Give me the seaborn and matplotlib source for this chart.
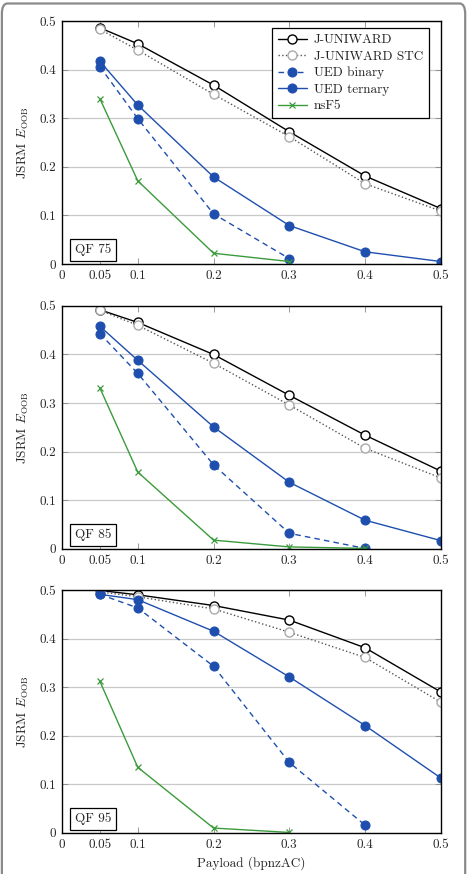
import numpy as np
import pandas as pd
import seaborn as sns
import matplotlib
matplotlib.use("Agg")
from matplotlib import pyplot as plt
from matplotlib.patches import FancyBboxPatch

# payload values (bpnzAC)
payload = [0.05, 0.1, 0.2, 0.3, 0.4, 0.5]

# QF 75
qf75_juniward = [0.486, 0.453, 0.368, 0.272, 0.181, 0.114]
qf75_stc = [0.483, 0.440, 0.349, 0.262, 0.165, 0.109]
qf75_ued_bin = [0.406, 0.299, 0.103, 0.011]
qf75_ued_ter = [0.417, 0.327, 0.179, 0.079, 0.025, 0.005]
qf75_nsf5 = [0.340, 0.171, 0.022, 0.005]

# QF 85
qf85_juniward = [0.492, 0.466, 0.400, 0.316, 0.234, 0.160]
qf85_stc = [0.491, 0.460, 0.382, 0.296, 0.207, 0.146]
qf85_ued_bin = [0.443, 0.361, 0.173, 0.032, 0.001]
qf85_ued_ter = [0.458, 0.388, 0.251, 0.137, 0.059, 0.017]
qf85_nsf5 = [0.331, 0.158, 0.018, 0.004, 0.001]

# QF 95
qf95_juniward = [0.499, 0.490, 0.468, 0.438, 0.381, 0.290]
qf95_stc = [0.496, 0.486, 0.461, 0.413, 0.361, 0.269]
qf95_ued_bin = [0.491, 0.463, 0.343, 0.145, 0.016]
qf95_ued_ter = [0.491, 0.480, 0.415, 0.321, 0.221, 0.113]
qf95_nsf5 = [0.312, 0.135, 0.010, 0.001]

qf_labels = ["QF 75", "QF 85", "QF 95"]
series_names = ["J-UNIWARD", "J-UNIWARD STC", "UED binary", "UED ternary", "nsF5"]
xticks = [0, 0.05, 0.1, 0.2, 0.3, 0.4, 0.5]
xtick_labels = ["0", "0.05", "0.1", "0.2", "0.3", "0.4", "0.5"]
yticks = [0, 0.1, 0.2, 0.3, 0.4, 0.5]
ytick_labels = ["0", "0.1", "0.2", "0.3", "0.4", "0.5"]

panels = [
    [qf75_juniward, qf75_stc, qf75_ued_bin, qf75_ued_ter, qf75_nsf5],
    [qf85_juniward, qf85_stc, qf85_ued_bin, qf85_ued_ter, qf85_nsf5],
    [qf95_juniward, qf95_stc, qf95_ued_bin, qf95_ued_ter, qf95_nsf5],
]

sns.set_style("ticks")
plt.rcParams['font.family'] = ['cmr10', 'DejaVu Serif']
plt.rcParams['mathtext.fontset'] = 'cm'
plt.rcParams['axes.formatter.use_mathtext'] = True

blue = '#1f4fae'
green = '#3b9b3b'
styles = [
    dict(color='black', linestyle='-', linewidth=1.0, marker='o', markersize=6.5,
         markerfacecolor='white', markeredgecolor='black', markeredgewidth=1.0),
    dict(color='#555555', linestyle=':', linewidth=1.0, marker='o', markersize=6.5,
         markerfacecolor='white', markeredgecolor='#aaaaaa', markeredgewidth=1.0),
    dict(color=blue, linestyle=(0, (4, 3)), linewidth=1.0, marker='o', markersize=6.5,
         markerfacecolor=blue, markeredgecolor=blue),
    dict(color=blue, linestyle='-', linewidth=1.0, marker='o', markersize=6.5,
         markerfacecolor=blue, markeredgecolor=blue),
    dict(color=green, linestyle='-', linewidth=1.0, marker='x', markersize=4,
         markeredgewidth=0.9, markeredgecolor=green),
]

fig = plt.figure(figsize=(4.68, 8.74), dpi=100)
fs = 9.5

# outer rounded frame
fig.patches.append(FancyBboxPatch((0.004, -0.02), 0.99, 1.016,
                                  boxstyle="round,pad=0,rounding_size=0.012",
                                  transform=fig.transFigure, fill=False,
                                  edgecolor='#8a8a8a', linewidth=1.6))

left, width = 0.1325, 0.8095
bottoms = [0.698, 0.372, 0.047]
height = 0.278

for i, (series, qf) in enumerate(zip(panels, qf_labels)):
    ax = fig.add_axes([left, bottoms[i], width, height])
    for name, vals, st in zip(series_names, series, styles):
        df = pd.DataFrame({'payload': payload[:len(vals)], 'value': vals})
        sns.lineplot(data=df, x='payload', y='value', ax=ax, label=name,
                     legend=False, **st)
    ax.set_xlim(0, 0.5)
    ax.set_ylim(0, 0.5)
    ax.set_xticks(xticks)
    ax.set_xticklabels(xtick_labels, fontsize=fs)
    ax.set_yticks(yticks)
    ax.set_yticklabels(ytick_labels, fontsize=fs)
    ax.tick_params(direction='in', top=True, right=True, length=4, width=0.6,
                   color='#888888', pad=4)
    ax.yaxis.grid(True, color='#c8c8c8', linewidth=0.9)
    ax.set_axisbelow(True)
    for sp in ax.spines.values():
        sp.set_linewidth(1.0)
        sp.set_color('black')
    ax.set_ylabel(r'JSRM $E_{\mathrm{OOB}}$', fontsize=fs, labelpad=6)
    ax.set_xlabel('')
    ax.text(0.082, 0.058, qf, transform=ax.transAxes, fontsize=fs, ha='center',
            va='center', bbox=dict(boxstyle='square,pad=0.38', facecolor='white',
                                   edgecolor='black', linewidth=0.9))
    if i == 0:
        leg = ax.legend(loc='upper right', bbox_to_anchor=(0.968, 0.971), fontsize=fs,
                        frameon=True, fancybox=False, edgecolor='black',
                        framealpha=1, handlelength=2.2, borderpad=0.45,
                        labelspacing=0.32, handletextpad=0.5, borderaxespad=0,
                        numpoints=1)
        leg.get_frame().set_linewidth(0.9)
    if i == 2:
        ax.set_xlabel('Payload (bpnzAC)', fontsize=fs, labelpad=4)

fig.savefig('out.png', dpi=100)
